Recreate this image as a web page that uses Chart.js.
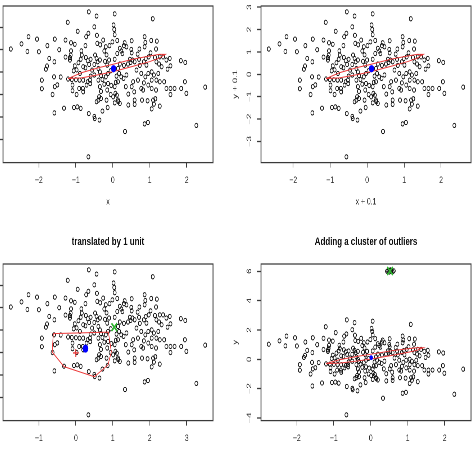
<!DOCTYPE html>
<html><head><meta charset="utf-8">
<script src="https://cdn.jsdelivr.net/npm/chart.js@4.4.1/dist/chart.umd.min.js"></script>
<style>
html,body{margin:0;padding:0;background:#fff;width:476px;height:452px;overflow:hidden;position:relative}
.p{position:absolute;transform-origin:0 0}
</style></head><body>
<div id="p1" class="p"></div>
<div id="p2" class="p"></div>
<div id="p3" class="p"></div>
<div id="p4" class="p"></div>
<script>
// ---- data (first panel, original scale) ----
const px = [
 -0.65,-0.44,0.05,1.08,-1.22,-0.50,0.02,0.04,-0.95,-0.66,
 -0.72,-0.43,0.05,-2.28,-2.05,-1.57,-1.28,-1.13,-1.03,-2.47,
 -1.77,-2.76,-2.31,-2.00,-1.45,-1.13,-1.14,-0.74,-0.34,-0.19,
 -0.09,0.12,-0.01,0.32,0.30,0.51,0.86,0.88,1.04,1.19,
 1.17,0.50,0.51,0.19,0.23,-0.23,-0.17,0.12,0.26,0.86,
 0.72,1.02,-1.72,-1.58,-1.16,-0.85,-0.84,-0.87,-0.93,-1.03,
 -0.98,-1.06,-1.81,-1.78,-1.59,-1.92,-1.92,-1.63,-1.57,-1.50,
 -1.41,-1.21,-1.11,-1.00,-0.90,-0.80,-1.09,-1.09,-0.98,-0.81,
 -0.80,-0.68,-0.61,-0.62,-0.73,-0.68,-0.60,-0.64,-0.74,-0.56,
 -0.48,-0.44,-0.41,-0.35,-0.50,-0.39,-0.35,-0.32,-0.39,-0.28,
 -0.35,-0.32,-0.23,-0.19,-0.13,-0.06,-0.15,-0.21,-0.10,0.05,
 0.19,0.30,0.41,0.48,0.46,0.53,0.59,0.71,0.84,0.89,
 0.97,1.14,1.27,1.36,1.54,1.56,1.48,1.84,1.96,1.18,
 1.25,1.32,0.91,0.73,0.64,0.77,0.88,0.96,1.05,1.11,
 1.23,1.18,1.27,1.39,1.05,0.96,0.77,0.82,1.05,1.17,
 1.45,1.56,1.67,1.85,1.95,1.99,1.56,2.50,2.26,0.37,
 0.29,0.14,0.08,0.05,-0.04,-0.13,-0.15,-0.06,0.07,0.01,
 0.11,0.14,0.15,0.05,-0.14,-0.28,-0.39,-0.37,-0.32,-0.44,
 -0.50,-0.49,-0.36,-0.65,-0.87,-0.96,-1.05,-1.32,-1.58,0.33,
 0.86,0.95,-0.66,0.42,0.59,0.59,0.42,0.58,0.51,0.35,
 0.55,0.68,0.79,0.94,1.09,1.15,1.05,1.11,1.27,0.19,
 0.23,0.17,0.14,-0.50,-0.60,-0.89,-0.80,-1.16,-1.28,-0.42,
 -0.26,0.37,0.67,1.45,-0.71,0.84,0.10,-0.17,-0.91
];
const py = [
 2.69,2.50,2.60,2.38,2.22,2.02,2.10,1.90,1.82,1.73,
 1.58,1.64,1.67,1.58,1.47,1.47,1.43,1.31,1.24,1.26,
 1.18,1.03,0.92,0.91,1.00,0.95,0.76,1.18,1.22,1.13,
 1.18,1.41,1.35,1.31,1.18,1.40,1.58,1.32,1.41,1.38,
 1.03,1.01,0.86,1.06,0.94,0.94,0.77,0.83,0.83,1.13,
 1.03,0.86,0.61,0.46,0.65,0.95,0.76,0.57,0.42,0.28,
 0.10,0.06,0.13,0.27,-0.21,-0.36,-0.74,-1.00,-0.65,-0.57,
 -0.22,-0.31,-0.33,-0.34,-0.36,-0.36,-0.58,-0.83,-1.00,-0.73,
 -0.88,-0.43,-0.51,-0.36,0.65,0.51,0.57,0.34,0.19,0.09,
 0.76,0.61,0.46,0.54,0.34,0.16,0.01,-0.15,-0.36,-0.33,
 -0.65,-0.86,-0.54,-0.21,-0.06,0.06,0.31,0.48,0.54,0.57,
 0.36,0.30,0.36,0.43,0.57,0.54,0.46,0.57,0.46,0.60,
 0.68,0.65,0.68,0.68,0.61,0.28,0.13,0.51,0.43,0.46,
 0.36,0.24,0.31,0.30,0.09,-0.06,-0.21,-0.06,0.01,-0.13,
 -0.06,-0.36,-0.43,-0.43,-0.36,-0.58,-0.73,-0.80,-0.73,-0.80,
 -0.73,-0.73,-0.73,-0.73,-0.43,-0.95,-1.00,-0.67,-2.38,-0.13,
 -0.28,-0.43,-0.46,-0.65,-0.60,-0.51,-0.80,-1.00,-0.95,-1.10,
 -1.03,-1.25,-1.32,-1.37,-1.58,-1.74,-1.25,-1.10,-1.18,-1.32,
 -1.98,-2.07,-2.14,-1.85,-1.62,-1.55,-1.58,-1.61,-1.82,-2.65,
 -2.31,-2.25,-3.78,-1.47,-1.44,-1.25,-0.98,-0.88,-0.65,-0.65,
 -0.43,-0.36,-1.25,-1.28,-1.25,-1.19,-1.64,-1.43,-1.52,-1.40,
 -0.21,-0.06,0.16,-0.13,-0.18,-0.06,0.24,0.54,0.67,1.28,
 1.43,1.13,0.80,0.54,-0.58,-0.48,-0.18,-1.25,-0.73
];
// cluster of outliers (panel 4)
const outX = [0.44,0.48,0.50,0.53,0.56,0.59,0.62,0.47,0.55];
const outY = [6.00,6.06,5.95,6.10,6.02,5.97,6.03,5.98,6.06];
// red contour (panels 1, 2, 4)
const ellX = [-1.21,-0.85,-0.35,0.01,0.55,1.00,1.25,1.42,1.25,1.00,0.55,0.01,-0.35,-0.85,-1.21];
const ellY = [-0.29,-0.03,0.21,0.35,0.58,0.72,0.79,0.79,0.62,0.47,0.26,0.02,-0.11,-0.26,-0.29];
// red polygon (panel 3)
const hullX = [-0.61,0.88,0.96,0.87,0.72,0.50,-0.32,-0.64,-0.61];
const hullY = [-0.16,-0.09,-0.97,-1.55,-1.77,-2.08,-1.63,-0.98,-0.16];
// centres
const blue1 = [0.02,0.15];
const blue3 = [0.26,-0.83];
const plus3 = [0.00,-1.02];
const green3 = [1.04,0.13];
const blue4 = [0.01,0.11];
const green4 = [0.52,6.02];
const shift2 = 0.1, shift3 = 1;
// ticks and labels
const xTicksA = [-2,-1,0,1,2];
const xTicks3 = [-1,0,1,2,3];
const yTicksA = [-3,-2,-1,0,1,2];
const yTicks2 = [-3,-2,-1,0,1,2,3];
const yTicks4 = [-4,-2,0,2,4,6];
const titles = ["", "", "translated by 1 unit", "Adding a cluster of outliers"];
const xTitles = ["x", "x + 0.1", "", ""];
const yTitles = ["y", "y + 0.1", "y", "y"];

// ---- rendering ----
const S = 0.72;          // horizontal squeeze of the reference picture
const FONT = "'Liberation Sans', Arial, sans-serif";
const pts = (xs, ys, dx = 0, dy = 0) => xs.map((x, i) => ({x: x + dx, y: ys[i] + dy}));
const ext = a => { const lo = Math.min(...a), hi = Math.max(...a), d = (hi - lo) * 0.04; return [lo - d, hi + d]; };
const fmt = v => (v < 0 ? '\u2212' : '') + Math.abs(v);

const boxPlugin = { id: 'box', afterDraw(c) {
  const {ctx, chartArea: a} = c; ctx.save(); ctx.strokeStyle = '#3a3a3a'; ctx.lineWidth = 1.25;
  ctx.strokeRect(a.left, a.top, a.right - a.left, a.bottom - a.top); ctx.restore(); } };

function cloud(d) { return { data: d, pointStyle: 'circle', pointRadius: 2.1, pointBorderWidth: 1.0,
  pointBorderColor: '#111', pointBackgroundColor: 'rgba(0,0,0,0)', order: 10 }; }
function outline(d) { return { data: d, showLine: true, borderColor: '#ec3a3a', borderWidth: 1.0,
  pointRadius: 0, fill: false, tension: 0, order: 5 }; }
function dot(p, r, color) { return { data: [{x: p[0], y: p[1]}], pointStyle: 'circle', pointRadius: r,
  pointBorderWidth: 0, pointBackgroundColor: color, order: 2 }; }
function mark(p, style, r, color, w) { return { data: [{x: p[0], y: p[1]}], pointStyle: style, pointRadius: r,
  pointBorderWidth: w, pointBorderColor: color, order: 1 }; }

function panel(id, o) {
  const AXW = 40 / S, BW = 210 / S, TOP = 40, BH = 156.6;
  const W = Math.ceil(AXW + BW + 8 / S), H = 242;
  const xAxisH = H - TOP - BH;
  const wrap = document.getElementById(id);
  wrap.style.left = (o.boxL - 40) + 'px';
  wrap.style.top = (o.boxT - TOP) + 'px';
  wrap.style.transform = 'scaleX(' + S + ')';
  const cv = document.createElement('canvas');
  cv.width = W; cv.height = H; cv.style.width = W + 'px'; cv.style.height = H + 'px';
  wrap.appendChild(cv);
  const [xmin, xmax] = ext(o.allX), [ymin, ymax] = ext(o.allY);
  const tickFont = {family: FONT, size: 9.5};
  new Chart(cv, {
    type: 'scatter',
    data: { datasets: o.datasets },
    options: {
      responsive: false, animation: false, devicePixelRatio: 2, events: [],
      layout: { autoPadding: false, padding: { left: 0, right: W - AXW - BW, top: o.title ? 0 : TOP, bottom: 0 } },
      plugins: {
        legend: { display: false }, tooltip: { enabled: false },
        title: { display: !!o.title, text: o.title, fullSize: false, color: '#111',
          font: { family: FONT, size: 11, weight: 'bold', lineHeight: 1.2 },
          padding: { top: 11.4, bottom: 15.4 } }
      },
      scales: {
        x: { type: 'linear', min: xmin, max: xmax,
          afterBuildTicks: s => { s.ticks = o.xTicks.map(v => ({value: v})); },
          afterFit: s => { s.height = xAxisH; },
          grid: { drawOnChartArea: false, drawTicks: true, tickLength: 5, tickColor: '#3a3a3a', tickWidth: 1 },
          border: { display: false },
          ticks: { padding: 7, color: '#2a2a2a', font: tickFont, maxRotation: 0, autoSkip: false, callback: fmt },
          title: { display: !!o.xTitle, text: o.xTitle, color: '#2a2a2a', font: tickFont,
            padding: { top: 0, bottom: xAxisH - 45 } } },
        y: { type: 'linear', min: ymin, max: ymax,
          afterBuildTicks: s => { s.ticks = o.yTicks.map(v => ({value: v})); },
          afterFit: s => { s.width = AXW; },
          grid: { drawOnChartArea: false, drawTicks: true, tickLength: 5.5, tickColor: '#3a3a3a', tickWidth: 1.3 },
          border: { display: false },
          ticks: { display: o.yLabels, padding: 5.5, color: '#2a2a2a', font: tickFont, callback: fmt,
            minRotation: 90, maxRotation: 90, crossAlign: 'center', autoSkip: false },
          title: { display: o.yLabels, text: o.yTitle, color: '#2a2a2a', font: tickFont,
            padding: { top: 14.2, bottom: 0 } } }
      }
    },
    plugins: [boxPlugin]
  });
}

const p1 = pts(px, py);
panel('p1', { boxL: 3, boxT: 5.7, allX: px, allY: py, xTicks: xTicksA, yTicks: yTicksA,
  yLabels: false, xTitle: xTitles[0], yTitle: yTitles[0], title: titles[0],
  datasets: [cloud(p1), outline(pts(ellX, ellY)), dot(blue1, 3.6, '#0000ff')] });

panel('p2', { boxL: 260.7, boxT: 5.7, allX: px.map(v => v + shift2), allY: py.map(v => v + shift2),
  xTicks: xTicksA, yTicks: yTicks2, yLabels: true, xTitle: xTitles[1], yTitle: yTitles[1], title: titles[1],
  datasets: [cloud(pts(px, py, shift2, shift2)), outline(pts(ellX, ellY, shift2, shift2)),
    dot([blue1[0] + shift2, blue1[1] + shift2], 3.6, '#0000ff')] });

panel('p3', { boxL: 3, boxT: 263.7, allX: px.map(v => v + shift3), allY: py,
  xTicks: xTicks3, yTicks: yTicksA, yLabels: false, xTitle: xTitles[2], yTitle: yTitles[2], title: titles[2],
  datasets: [cloud(pts(px, py, shift3, 0)), outline(pts(hullX, hullY)), dot(blue3, 4, '#0000ff'),
    mark(plus3, 'cross', 4, '#ec3a3a', 1.3), mark(green3, 'crossRot', 5.5, '#2fb52f', 2)] });

panel('p4', { boxL: 260.7, boxT: 263.7, allX: px.concat(outX), allY: py.concat(outY),
  xTicks: xTicksA, yTicks: yTicks4, yLabels: true, xTitle: xTitles[3], yTitle: yTitles[3], title: titles[3],
  datasets: [cloud(pts(px.concat(outX), py.concat(outY))), outline(pts(ellX, ellY)), dot(blue4, 2.4, '#0000ff'),
    mark(green4, 'crossRot', 5.5, '#2fb52f', 2)] });
</script>
</body></html>
